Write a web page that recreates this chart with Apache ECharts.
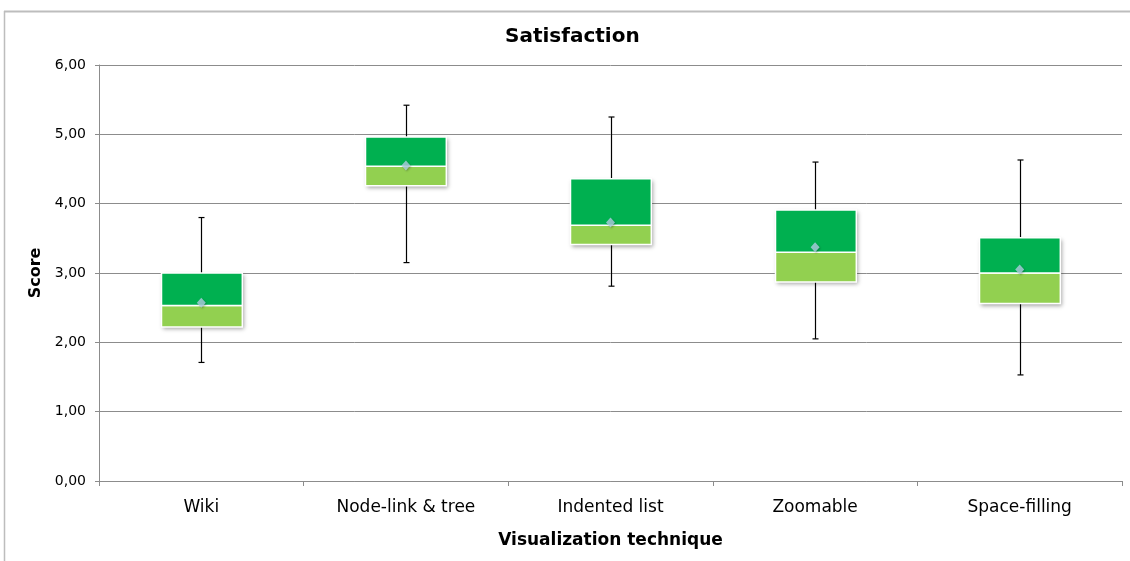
<!DOCTYPE html>
<html>
<head>
<meta charset="utf-8">
<style>
  html, body { margin: 0; padding: 0; background: #fff; }
  #chart { width: 1130px; height: 561px; }
</style>
<script src="https://cdn.jsdelivr.net/npm/echarts@6/dist/echarts.min.js"></script>
</head>
<body>
<div id="chart"></div>
<script>
// Satisfaction scores per visualization technique (five-number summary + mean)
const categories = ['Wiki', 'Node-link & tree', 'Indented list', 'Zoomable', 'Space-filling'];
const whiskerLow  = [1.71, 3.15, 2.81, 2.05, 1.53];
const q1          = [2.22, 4.26, 3.41, 2.87, 2.56];
const median      = [2.53, 4.54, 3.69, 3.30, 3.00];
const q3          = [3.00, 4.96, 4.36, 3.91, 3.51];
const whiskerHigh = [3.80, 5.42, 5.25, 4.60, 4.63];
const mean        = [2.57, 4.55, 3.73, 3.37, 3.05];
const yTicks      = [0, 1, 2, 3, 4, 5, 6];

const FONT = 'DejaVu Sans, Verdana, sans-serif';
const boxRows = categories.map((c, i) => [i, whiskerLow[i], q1[i], median[i], q3[i], whiskerHigh[i]]);
const meanRows = categories.map((c, i) => [i, mean[i]]);

function renderBox(params, api) {
  const i = api.value(0);
  const pLow = api.coord([i, api.value(1)]);
  const pQ1 = api.coord([i, api.value(2)]);
  const pMed = api.coord([i, api.value(3)]);
  const pQ3 = api.coord([i, api.value(4)]);
  const pHigh = api.coord([i, api.value(5)]);
  const w = api.size([1, 0])[0] * 0.395;
  const x = Math.round(pMed[0] - w / 2) + 0.5;
  const cx = Math.round(pMed[0]) + 0.5;
  const cap = 3;
  const whiskerStyle = { stroke: '#000', lineWidth: 1.2 };
  const boxShadow = { shadowBlur: 4, shadowOffsetX: 1.5, shadowOffsetY: 2, shadowColor: 'rgba(0,0,0,0.35)' };
  return {
    type: 'group',
    children: [
      { type: 'line', shape: { x1: cx, y1: pHigh[1], x2: cx, y2: pQ3[1] }, style: whiskerStyle },
      { type: 'line', shape: { x1: cx - cap, y1: pHigh[1], x2: cx + cap, y2: pHigh[1] }, style: whiskerStyle },
      { type: 'line', shape: { x1: cx, y1: pQ1[1], x2: cx, y2: pLow[1] }, style: whiskerStyle },
      { type: 'line', shape: { x1: cx - cap, y1: pLow[1], x2: cx + cap, y2: pLow[1] }, style: whiskerStyle },
      // whole-box shadow
      { type: 'rect', shape: { x: x, y: pQ3[1], width: w, height: pQ1[1] - pQ3[1] },
        style: Object.assign({ fill: '#fff' }, boxShadow) },
      // lower half: Q1 to median
      { type: 'rect', shape: { x: x, y: pMed[1], width: w, height: pQ1[1] - pMed[1] },
        style: { fill: '#92D050', stroke: '#fff', lineWidth: 1.5 } },
      // upper half: median to Q3
      { type: 'rect', shape: { x: x, y: pQ3[1], width: w, height: pMed[1] - pQ3[1] },
        style: { fill: '#00B050', stroke: '#fff', lineWidth: 1.5 } }
    ]
  };
}

const chart = echarts.init(document.getElementById('chart'), null, { renderer: 'canvas' });
chart.setOption({
  backgroundColor: '#fff',
  animation: false,
  title: {
    text: 'Satisfaction',
    left: 500,
    top: 22,
    textStyle: { fontFamily: FONT, fontSize: 20, fontWeight: 'bold', color: '#000' }
  },
  graphic: [
    { type: 'line', shape: { x1: 4, y1: 11.5, x2: 1130, y2: 11.5 }, style: { stroke: '#bdbdbd', lineWidth: 2 } },
    { type: 'line', shape: { x1: 4.5, y1: 11, x2: 4.5, y2: 561 }, style: { stroke: '#bdbdbd', lineWidth: 1.5 } }
  ],
  grid: { left: 99, right: 8, top: 65, bottom: 80 },
  xAxis: {
    type: 'category',
    data: categories,
    name: 'Visualization technique',
    nameLocation: 'middle',
    nameGap: 51,
    nameTextStyle: { fontFamily: FONT, fontSize: 17, fontWeight: 'bold', color: '#000' },
    axisLine: { lineStyle: { color: '#8c8c8c', width: 1 } },
    axisTick: { show: true, length: 5, alignWithLabel: false, lineStyle: { color: '#8c8c8c' } },
    axisLabel: { fontFamily: FONT, fontSize: 17, color: '#000', margin: 18 },
    splitLine: { show: false }
  },
  yAxis: {
    type: 'value',
    min: 0,
    max: 6,
    interval: 1,
    name: 'Score',
    nameLocation: 'middle',
    nameRotate: 90,
    nameGap: 53,
    nameTextStyle: { fontFamily: FONT, fontSize: 16, fontWeight: 'bold', color: '#000' },
    axisLine: { show: true, lineStyle: { color: '#8c8c8c', width: 1 } },
    axisTick: { show: true, length: 4, lineStyle: { color: '#8c8c8c' } },
    axisLabel: {
      fontFamily: FONT, fontSize: 14, color: '#000', margin: 13,
      formatter: v => yTicks.includes(v) ? v.toFixed(2).replace('.', ',') : ''
    },
    splitLine: { show: true, lineStyle: { color: '#8c8c8c', width: 1 } }
  },
  series: [
    {
      type: 'custom',
      renderItem: renderBox,
      encode: { x: 0, y: [1, 2, 3, 4, 5] },
      data: boxRows,
      z: 2
    },
    {
      type: 'scatter',
      data: meanRows,
      symbol: 'diamond',
      symbolSize: [9, 10],
      itemStyle: { color: '#AFCFE2', shadowBlur: 2, shadowOffsetX: 1, shadowOffsetY: 1, shadowColor: 'rgba(0,0,0,0.3)' },
      z: 3
    }
  ]
});
</script>
</body>
</html>
